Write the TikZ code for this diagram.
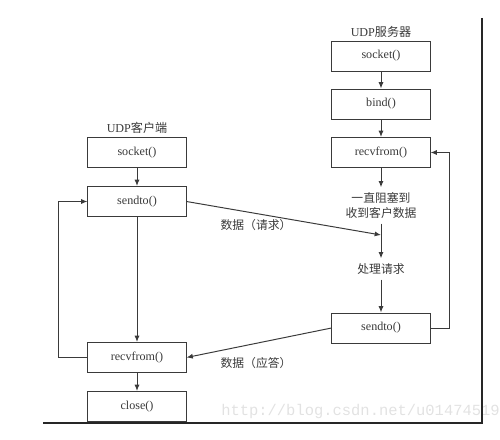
\documentclass[tikz,border=0pt]{standalone}
\usepackage{fontspec}
\setmainfont{Liberation Serif}
\newfontfamily\cjk{Noto Sans CJK SC}
\newfontfamily\wmfont{Liberation Mono}
\usepackage{tikz}
\usetikzlibrary{arrows.meta}

\definecolor{inkgray}{HTML}{3A3A3A}
\definecolor{markgray}{HTML}{E2E2E2}

\tikzset{
  callbox/.style={draw=inkgray, line width=0.7pt, minimum width=2.45cm, minimum height=0.75cm,
    inner sep=0pt, text=inkgray, font=\fontsize{8.6}{10}\selectfont},
  steptext/.style={text=inkgray, align=center, inner sep=3.5pt, font=\cjk\fontsize{8.4}{10.6}\selectfont},
  flow/.style={draw=inkgray, line width=0.7pt, -{Latex[length=4.5pt, width=3.6pt]}},
}

\begin{document}
\begin{tikzpicture}[x=0.025cm, y=-0.025cm]
        \useasboundingbox (0,0) rectangle (500,440);

        % Watermark, under the frame
        \begin{scope}
            \clip (0,0) rectangle (500,440);
            \node[anchor=west, inner sep=0pt, text=markgray, font=\wmfont\fontsize{11}{12}\selectfont]
                (mark) at (221,411) {http://blog.csdn.net/u014745194};
        \end{scope}

        % Frame
        \draw[line width=1.5pt, black!85] (482,18) -- (482,423) -- (43,423);

        % Right side: UDP server
        \node[text=inkgray, font=\fontsize{8.6}{10}\selectfont] (sTitle) at (381,32) {UDP{\cjk 服务器}};
        \node[callbox] (sSocket) at (381,56) {socket()};
        \node[callbox] (sBind) at (381,104) {bind()};
        \node[callbox] (sRecv) at (381,152.5) {recvfrom()};
        \node[steptext] (sWait) at (381,205.5) {一直阻塞到\\收到客户数据};
        \coordinate (reqIn) at (381,235);
        \node[steptext] (sProc) at (381,269) {处理请求};
        \node[callbox] (sSend) at (381,328) {sendto()};

        \draw[flow] (sSocket) -- (sBind);
        \draw[flow] (sBind) -- (sRecv);
        \draw[flow] (sRecv) -- (sWait);
        \draw[flow] (sWait) -- (sProc);
        \draw[flow] (sProc) -- (sSend);
        \draw[flow] (sSend.east) -- ++(19,0) |- (sRecv.east);

        % Left side: UDP client
        \node[text=inkgray, font=\fontsize{8.6}{10}\selectfont] (cTitle) at (137,128) {UDP{\cjk 客户端}};
        \node[callbox] (cSocket) at (137,152.5) {socket()};
        \node[callbox] (cSend) at (137,201.5) {sendto()};
        \node[callbox] (cRecv) at (137,357.5) {recvfrom()};
        \node[callbox] (cClose) at (137,406.5) {close()};

        \draw[flow] (cSocket) -- (cSend);
        \draw[flow] (cSend) -- (cRecv);
        \draw[flow] (cRecv) -- (cClose);
        \draw[flow] (cRecv.west) -- ++(-29,0) |- (cSend.west);

        % Data between the two sides
        \draw[flow] (cSend.east) -- (reqIn);
        \node[steptext] (reqText) at (256,225) {数据（请求）};
        \draw[flow] (sSend.west) -- (cRecv.east);
        \node[steptext] (ansText) at (256,363) {数据（应答）};
    \end{tikzpicture}
\end{document}
